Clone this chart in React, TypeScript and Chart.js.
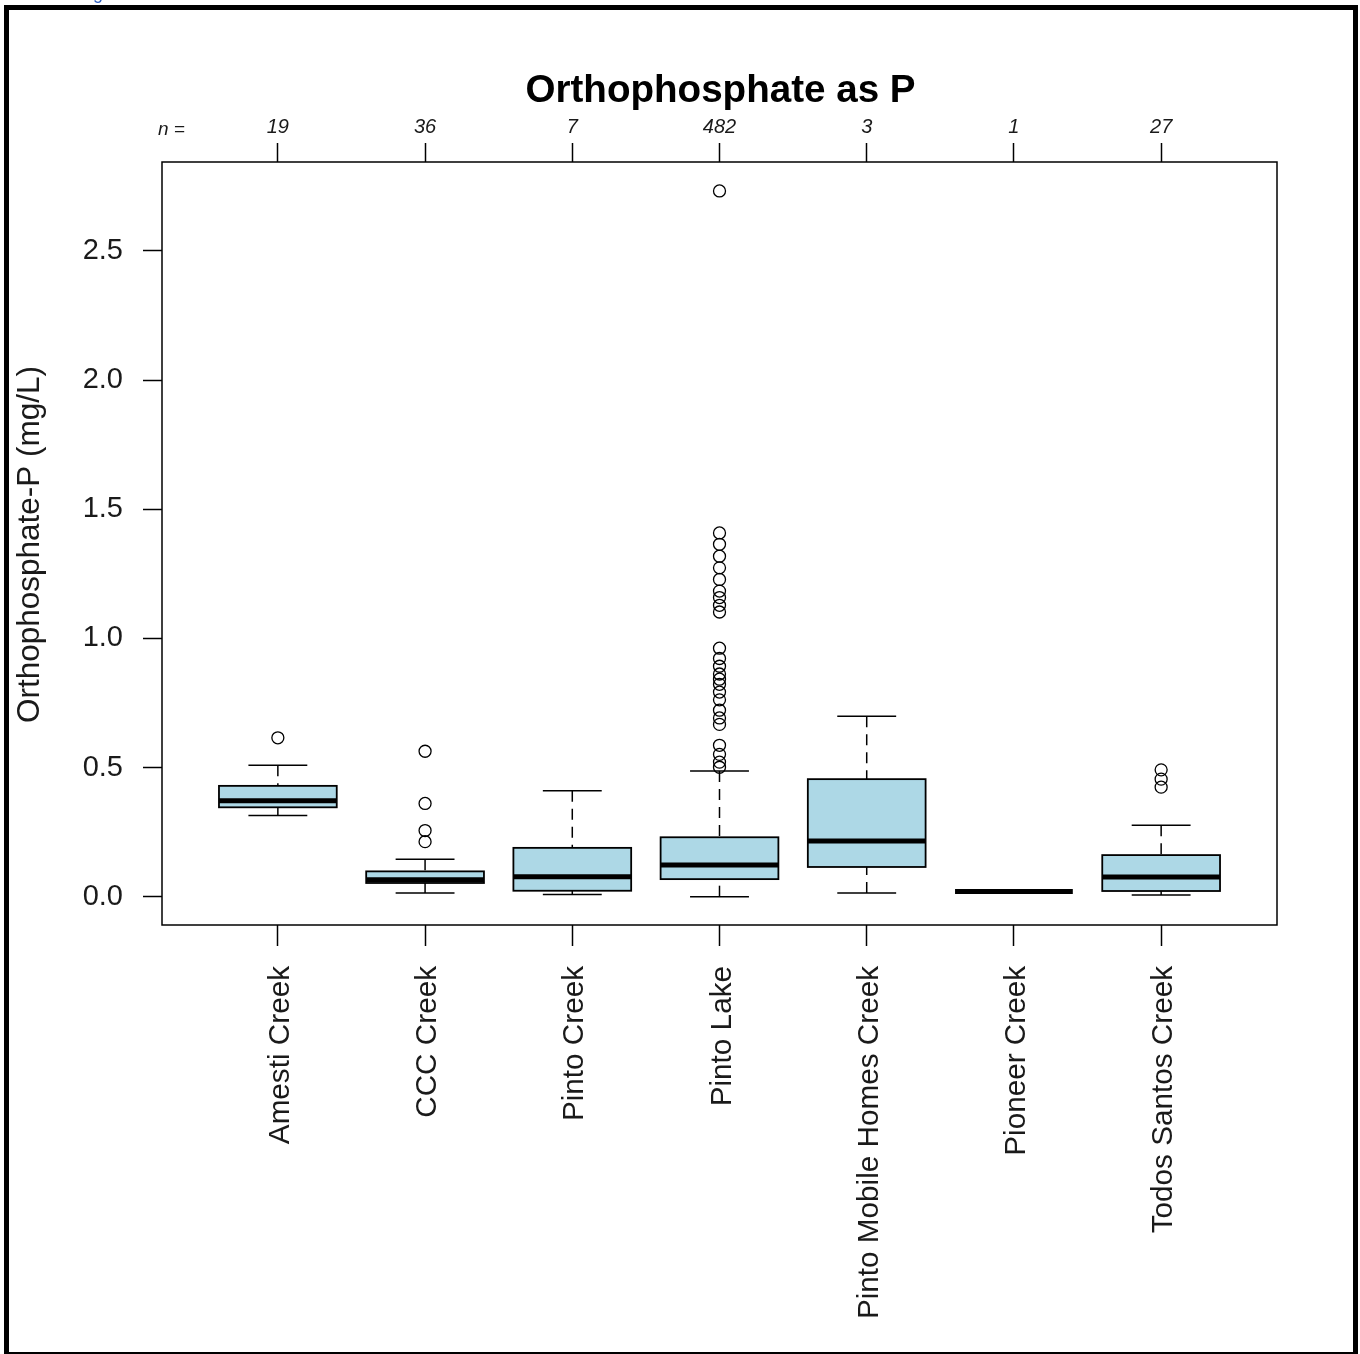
import React, { useEffect, useRef } from 'react';
import { Chart, registerables } from 'chart.js';

Chart.register(...registerables);

const categories = [
  'Amesti Creek',
  'CCC Creek',
  'Pinto Creek',
  'Pinto Lake',
  'Pinto Mobile Homes Creek',
  'Pioneer Creek',
  'Todos Santos Creek',
];
const sampleCounts = [19, 36, 7, 482, 3, 1, 27];
const whiskerLow = [0.314, 0.014, 0.008, 0.0, 0.014, 0.02, 0.007];
const quartile1 = [0.346, 0.053, 0.023, 0.068, 0.115, 0.02, 0.022];
const medians = [0.371, 0.066, 0.077, 0.123, 0.216, 0.02, 0.076];
const quartile3 = [0.429, 0.098, 0.189, 0.23, 0.455, 0.02, 0.161];
const whiskerHigh = [0.509, 0.145, 0.41, 0.487, 0.698, 0.02, 0.277];
const outliersAmesti = [0.615];
const outliersCCC = [0.563, 0.361, 0.256, 0.213];
const outliersPintoCreek: number[] = [];
const outliersPintoLake = [
  2.732, 1.408, 1.364, 1.318, 1.273, 1.228, 1.183, 1.158, 1.128, 1.102, 0.962, 0.922,
  0.892, 0.862, 0.842, 0.822, 0.792, 0.762, 0.722, 0.692, 0.667, 0.586, 0.551, 0.521,
  0.501,
];
const outliersPMH: number[] = [];
const outliersPioneer: number[] = [];
const outliersTodos = [0.491, 0.455, 0.424];
const outlierLists = [
  outliersAmesti,
  outliersCCC,
  outliersPintoCreek,
  outliersPintoLake,
  outliersPMH,
  outliersPioneer,
  outliersTodos,
];
const yTicks = [0, 0.5, 1.0, 1.5, 2.0, 2.5];
const yMin = -0.1096;
const yMax = 2.844;
const xMin = 0.213;
const xMax = 7.787;

const chartTitle = 'Orthophosphate as P';
const yTitle = 'Orthophosphate-P (mg/L)';

const FONT = '"Liberation Sans", Arial, sans-serif';
const TEXT = '#1a1a1a';

const boxPlugin = {
  id: 'boxPlot',
  beforeDatasetsDraw(chart: any) {
    const { ctx, scales } = chart;
    const x = scales.x;
    const y = scales.y;
    ctx.save();
    ctx.strokeStyle = '#000';
    categories.forEach((_, i) => {
      const pos = i + 1;
      const cx = x.getPixelForValue(pos);
      const half = x.getPixelForValue(pos + 0.4) - cx;
      const capHalf = x.getPixelForValue(pos + 0.2) - cx;
      const pLo = y.getPixelForValue(whiskerLow[i]);
      const pQ1 = y.getPixelForValue(quartile1[i]);
      const pMed = y.getPixelForValue(medians[i]);
      const pQ3 = y.getPixelForValue(quartile3[i]);
      const pHi = y.getPixelForValue(whiskerHigh[i]);
      // dashed whiskers
      ctx.lineWidth = 1.5;
      ctx.setLineDash([11, 7]);
      if (pHi < pQ3) {
        ctx.beginPath();
        ctx.moveTo(cx, pHi);
        ctx.lineTo(cx, pQ3);
        ctx.stroke();
      }
      if (pLo > pQ1) {
        ctx.beginPath();
        ctx.moveTo(cx, pLo);
        ctx.lineTo(cx, pQ1);
        ctx.stroke();
      }
      ctx.setLineDash([]);
      if (pHi < pQ3 || pLo > pQ1) {
        ctx.beginPath();
        ctx.moveTo(cx - capHalf, pHi);
        ctx.lineTo(cx + capHalf, pHi);
        ctx.moveTo(cx - capHalf, pLo);
        ctx.lineTo(cx + capHalf, pLo);
        ctx.stroke();
      }
      // box
      if (pQ1 - pQ3 > 0.5) {
        ctx.fillStyle = '#ADD8E6';
        ctx.fillRect(cx - half, pQ3, half * 2, pQ1 - pQ3);
        ctx.lineWidth = 1.8;
        ctx.strokeRect(cx - half, pQ3, half * 2, pQ1 - pQ3);
      }
      // median
      ctx.lineWidth = 5;
      ctx.beginPath();
      ctx.moveTo(cx - half, pMed);
      ctx.lineTo(cx + half, pMed);
      ctx.stroke();
    });
    ctx.restore();
  },
  afterDraw(chart: any) {
    const { ctx, chartArea } = chart;
    const { left, right, top, bottom } = chartArea;
    ctx.save();
    // plot frame
    ctx.strokeStyle = '#000';
    ctx.lineWidth = 1.5;
    ctx.strokeRect(left, top, right - left, bottom - top);
    // title
    ctx.fillStyle = '#000';
    ctx.font = `bold 38.6px ${FONT}`;
    ctx.textAlign = 'center';
    ctx.textBaseline = 'alphabetic';
    ctx.fillText(chartTitle, (left + right) / 2 + 1, 102);
    // n =
    ctx.fillStyle = TEXT;
    ctx.font = `italic 19px ${FONT}`;
    ctx.textAlign = 'left';
    ctx.fillText('n =', 158, 135);
    // y title
    ctx.font = `31.5px ${FONT}`;
    ctx.textAlign = 'center';
    ctx.textBaseline = 'middle';
    ctx.translate(30, (top + bottom) / 2 + 1);
    ctx.rotate(-Math.PI / 2);
    ctx.fillText(yTitle, 0, 0);
    ctx.setTransform(1, 0, 0, 1, 0, 0);
    // outer frame
    ctx.fillStyle = '#000';
    ctx.fillRect(4, 5, 1354, 5);
    ctx.fillRect(4, 5, 5, 1349);
    ctx.fillRect(1353, 5, 5, 1349);
    ctx.fillRect(4, 1352, 1354, 2);
    // cut-off caption fragment
    ctx.fillStyle = '#2f5fbf';
    ctx.font = `18px ${FONT}`;
    ctx.textAlign = 'left';
    ctx.textBaseline = 'alphabetic';
    ctx.fillText('g', 93, -1);
    ctx.restore();
  },
};

export default function App() {
  const ref = useRef<HTMLCanvasElement | null>(null);
  useEffect(() => {
    if (!ref.current) return;
    const points: { x: number; y: number }[] = [];
    outlierLists.forEach((list, i) => list.forEach((v) => points.push({ x: i + 1, y: v })));
    const catTicks = (scale: any) => {
      scale.ticks = categories.map((_, i) => ({ value: i + 1 }));
    };
    const chart = new Chart(ref.current, {
      type: 'scatter',
      data: {
        datasets: [
          {
            data: points,
            pointStyle: 'circle',
            pointRadius: 6,
            pointBorderWidth: 1.3,
            pointBorderColor: '#000',
            pointBackgroundColor: 'rgba(0,0,0,0)',
            showLine: false,
          },
        ],
      },
      options: {
        animation: false,
        responsive: false,
        devicePixelRatio: 1,
        layout: { padding: { left: 0, top: 0, right: 83, bottom: 0 } },
        plugins: { legend: { display: false }, tooltip: { enabled: false } },
        scales: {
          x: {
            type: 'linear',
            position: 'bottom',
            min: xMin,
            max: xMax,
            afterBuildTicks: catTicks,
            afterFit: (s: any) => {
              s.height = 1354 - 925;
            },
            grid: { drawOnChartArea: false, tickLength: 21, tickWidth: 1.5, tickColor: '#000' },
            border: { display: false },
            ticks: {
              minRotation: 90,
              maxRotation: 90,
              padding: 20,
              labelOffset: 3,
              color: TEXT,
              font: { family: FONT, size: 29.7 },
              callback: (v: any) => categories[Math.round(Number(v)) - 1] ?? '',
            },
          },
          x2: {
            type: 'linear',
            position: 'top',
            min: xMin,
            max: xMax,
            afterBuildTicks: catTicks,
            afterFit: (s: any) => {
              s.height = 162;
            },
            grid: { drawOnChartArea: false, tickLength: 19, tickWidth: 1.5, tickColor: '#000' },
            border: { display: false },
            ticks: {
              padding: 4,
              color: TEXT,
              font: { family: FONT, size: 20, style: 'italic' },
              callback: (v: any) => String(sampleCounts[Math.round(Number(v)) - 1] ?? ''),
            },
          },
          y: {
            type: 'linear',
            min: yMin,
            max: yMax,
            afterBuildTicks: (s: any) => {
              s.ticks = yTicks.map((v) => ({ value: v }));
            },
            afterFit: (s: any) => {
              s.width = 162;
            },
            grid: { drawOnChartArea: false, tickLength: 19, tickWidth: 1.5, tickColor: '#000' },
            border: { display: false },
            ticks: {
              padding: 20,
              color: TEXT,
              font: { family: FONT, size: 29 },
              callback: (v: any) => Number(v).toFixed(1),
            },
          },
        },
      },
      plugins: [boxPlugin],
    });
    return () => chart.destroy();
  }, []);
  return (
    <div style={{ position: 'absolute', left: 0, top: 0, width: 1360, height: 1354, background: '#fff' }}>
      <canvas ref={ref} width={1360} height={1354} style={{ display: 'block' }} />
    </div>
  );
}
